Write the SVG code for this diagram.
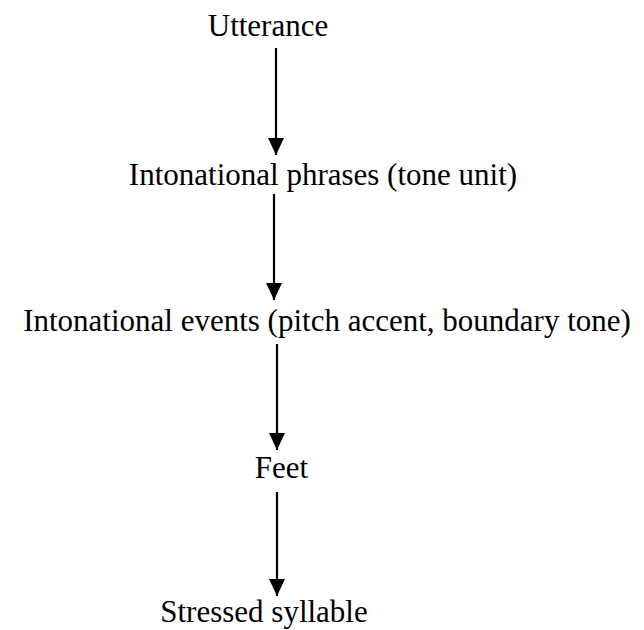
<svg xmlns="http://www.w3.org/2000/svg" width="644" height="630" viewBox="0 0 644 630">
<style>
text{font-family:"Liberation Serif","Times New Roman",serif;font-size:31px;fill:#000;text-anchor:middle}
.c line{stroke:#000;stroke-width:2.2}
</style>
<defs>
<marker id="ah" markerUnits="userSpaceOnUse" markerWidth="18" markerHeight="16" refX="17" refY="8" orient="auto" viewBox="0 0 18 16">
<path d="M0,0 L17,8 L0,16 Z" fill="#000"/>
</marker>
</defs>
<rect width="644" height="630" fill="#fff"/>
<g id="n1"><text x="268" y="36">Utterance</text></g>
<g id="n2"><text x="323" y="185">Intonational phrases (tone unit)</text></g>
<g id="n3"><text x="327" y="331">Intonational events (pitch accent, boundary tone)</text></g>
<g id="n4"><text x="281.5" y="478">Feet</text></g>
<g id="n5"><text x="264" y="622">Stressed syllable</text></g>
<g class="c" id="connectors">
<line x1="276" y1="48" x2="276" y2="155" marker-end="url(#ah)"/>
<line x1="274" y1="194" x2="274" y2="300" marker-end="url(#ah)"/>
<line x1="277" y1="344" x2="277" y2="450" marker-end="url(#ah)"/>
<line x1="277" y1="492" x2="277" y2="596" marker-end="url(#ah)"/>
</g>
</svg>
